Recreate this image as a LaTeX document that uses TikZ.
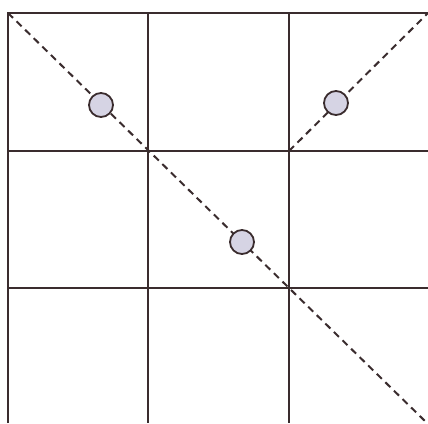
\documentclass[tikz,border=0pt]{standalone}
\begin{document}
\begin{tikzpicture}[x=1pt,y=-1pt,
  gridline/.style={draw=linecol,line width=1.8pt},
  diag/.style={draw=linecol,line width=2pt,dash pattern=on 7pt off 5pt},
  ball/.style={circle,draw=linecol,fill=ballfill,line width=1.8pt,minimum size=24pt,inner sep=0pt}]
\definecolor{linecol}{RGB}{58,44,46}
\definecolor{ballfill}{RGB}{214,212,228}
\useasboundingbox[fill=white] (0,0) rectangle (428,423);
% grid coordinates
\coordinate (a0) at (8,13);
\coordinate (c1) at (289,151);
\coordinate (tr) at (428,13);
\coordinate (br) at (428,424);
% grid lines
\draw[gridline] (8,423) -- (8,13) -- (428,13);
\draw[gridline] (148,13) -- (148,423);
\draw[gridline] (289,13) -- (289,423);
\draw[gridline] (8,151) -- (428,151);
\draw[gridline] (8,288) -- (428,288);
% diagonals
\draw[diag] (a0) -- (br);
\draw[diag] (c1) -- (tr);
% balls
\node[ball] (p1) at (101,105) {};
\node[ball] (p2) at (336,103) {};
\node[ball] (p3) at (242,242) {};
\end{tikzpicture}
\end{document}
